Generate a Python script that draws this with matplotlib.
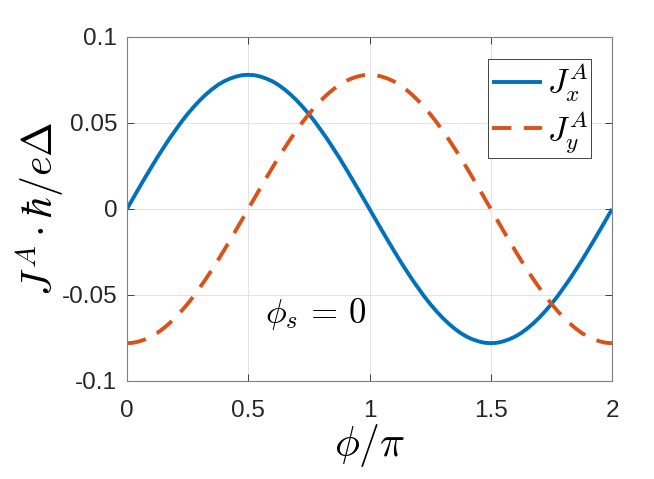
import matplotlib
matplotlib.use("Agg")
import matplotlib.pyplot as plt

plt.rcParams['mathtext.fontset'] = 'cm'
plt.rcParams['font.family'] = ['Liberation Sans', 'DejaVu Sans']

phi = [0.000, 0.025, 0.050, 0.075, 0.100, 0.125, 0.150, 0.175, 0.200, 0.225,
       0.250, 0.275, 0.300, 0.325, 0.350, 0.375, 0.400, 0.425, 0.450, 0.475,
       0.500, 0.525, 0.550, 0.575, 0.600, 0.625, 0.650, 0.675, 0.700, 0.725,
       0.750, 0.775, 0.800, 0.825, 0.850, 0.875, 0.900, 0.925, 0.950, 0.975,
       1.000, 1.025, 1.050, 1.075, 1.100, 1.125, 1.150, 1.175, 1.200, 1.225,
       1.250, 1.275, 1.300, 1.325, 1.350, 1.375, 1.400, 1.425, 1.450, 1.475,
       1.500, 1.525, 1.550, 1.575, 1.600, 1.625, 1.650, 1.675, 1.700, 1.725,
       1.750, 1.775, 1.800, 1.825, 1.850, 1.875, 1.900, 1.925, 1.950, 1.975,
       2.000]

Jx = [0.0, 0.0061, 0.0122, 0.0182, 0.0241, 0.0299, 0.0354, 0.0408, 0.0458, 0.0507,
      0.0552, 0.0593, 0.0631, 0.0665, 0.0695, 0.0721, 0.0742, 0.0758, 0.0770, 0.0778,
      0.0780, 0.0778, 0.0770, 0.0758, 0.0742, 0.0721, 0.0695, 0.0665, 0.0631, 0.0593,
      0.0552, 0.0507, 0.0458, 0.0408, 0.0354, 0.0299, 0.0241, 0.0182, 0.0122, 0.0061,
      0.0, -0.0061, -0.0122, -0.0182, -0.0241, -0.0299, -0.0354, -0.0408, -0.0458, -0.0507,
      -0.0552, -0.0593, -0.0631, -0.0665, -0.0695, -0.0721, -0.0742, -0.0758, -0.0770, -0.0778,
      -0.0780, -0.0778, -0.0770, -0.0758, -0.0742, -0.0721, -0.0695, -0.0665, -0.0631, -0.0593,
      -0.0552, -0.0507, -0.0458, -0.0408, -0.0354, -0.0299, -0.0241, -0.0182, -0.0122, -0.0061,
      0.0]

Jy = [-0.0780, -0.0778, -0.0770, -0.0758, -0.0742, -0.0721, -0.0695, -0.0665, -0.0631, -0.0593,
      -0.0552, -0.0507, -0.0458, -0.0408, -0.0354, -0.0299, -0.0241, -0.0182, -0.0122, -0.0061,
      0.0, 0.0061, 0.0122, 0.0182, 0.0241, 0.0299, 0.0354, 0.0408, 0.0458, 0.0507,
      0.0552, 0.0593, 0.0631, 0.0665, 0.0695, 0.0721, 0.0742, 0.0758, 0.0770, 0.0778,
      0.0780, 0.0778, 0.0770, 0.0758, 0.0742, 0.0721, 0.0695, 0.0665, 0.0631, 0.0593,
      0.0552, 0.0507, 0.0458, 0.0408, 0.0354, 0.0299, 0.0241, 0.0182, 0.0122, 0.0061,
      0.0, -0.0061, -0.0122, -0.0182, -0.0241, -0.0299, -0.0354, -0.0408, -0.0458, -0.0507,
      -0.0552, -0.0593, -0.0631, -0.0665, -0.0695, -0.0721, -0.0742, -0.0758, -0.0770, -0.0778,
      -0.0780]

xticks = [0, 0.5, 1, 1.5, 2]
xticklabels = ['0', '0.5', '1', '1.5', '2']
yticks = [-0.1, -0.05, 0, 0.05, 0.1]
yticklabels = ['-0.1', '-0.05', '0', '0.05', '0.1']

fig = plt.figure(figsize=(6.54, 4.79), dpi=100)
ax = fig.add_axes([0.194, 0.2046, 0.742, 0.7182])

ax.plot(phi, Jx, color='#0072BD', lw=2.8, label=r'$J_x^A$', solid_capstyle='butt')
ax.plot(phi, Jy, color='#D95319', lw=2.8, linestyle=(0, (5.0, 3.2)), label=r'$J_y^A$')

ax.set_xlim(0, 2)
ax.set_ylim(-0.1, 0.1)
ax.set_xticks(xticks)
ax.set_xticklabels(xticklabels)
ax.set_yticks(yticks)
ax.set_yticklabels(yticklabels)
ax.tick_params(direction='in', length=5, width=0.6, labelsize=17.5, colors='#262626',
               top=True, right=True)
ax.tick_params(axis='x', pad=14)
ax.tick_params(axis='y', pad=7)
ax.grid(True, color='#e3e3e3', lw=0.7)
for s in ax.spines.values():
    s.set_color('#7f7f7f')
    s.set_linewidth(0.8)

ax.set_xlabel(r'$\phi/\pi$', fontsize=30, labelpad=0)
ax.set_ylabel(r'$J^A\cdot\hbar/e\Delta$', fontsize=30, labelpad=-3)

ax.text(0.78, -0.061, r'$\phi_s\,=\,0$', fontsize=25, ha='center', va='center')

leg = ax.legend(loc='upper right', bbox_to_anchor=(0.957, 0.936), borderaxespad=0,
                fontsize=24, handlelength=1.5, handletextpad=0.15, borderpad=0.1,
                labelspacing=0.15, fancybox=False, framealpha=1, edgecolor='#262626')
leg.get_frame().set_linewidth(0.6)

fig.savefig('out.png', dpi=100)
